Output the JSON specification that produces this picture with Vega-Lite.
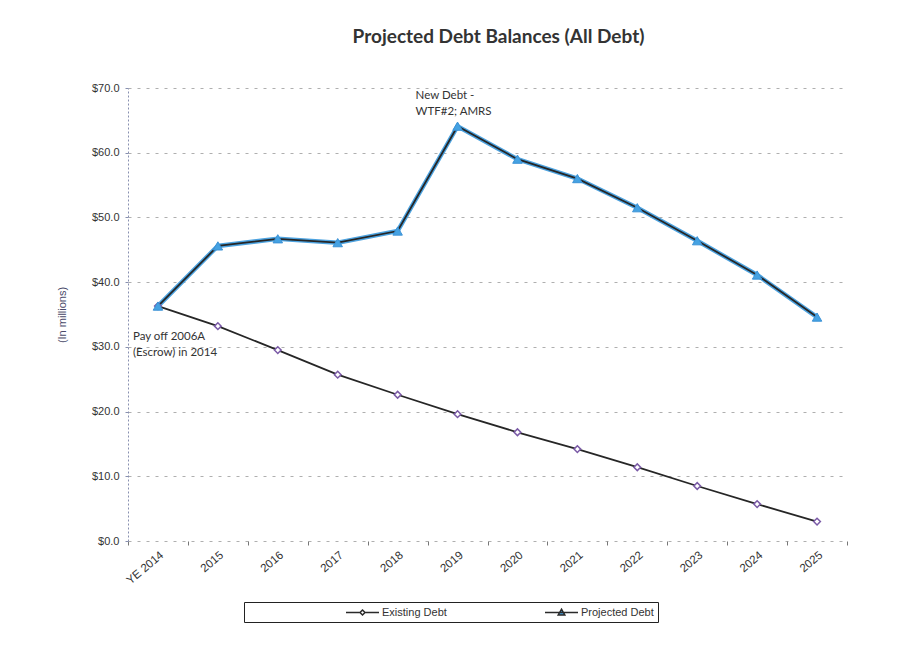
{
  "$schema": "https://vega.github.io/schema/vega-lite/v6.json",
  "autosize": {"type": "none"},
  "width": 719,
  "height": 453,
  "padding": {"left": 128, "top": 88, "right": 53, "bottom": 105},
  "background": "white",
  "title": {
    "text": "Projected Debt Balances (All Debt)",
    "font": "Lato",
    "fontSize": 19,
    "fontWeight": "bold",
    "color": "#333333",
    "anchor": "middle",
    "dx": 11,
    "offset": 35
  },
  "config": {
    "view": {"stroke": null},
    "axis": {"labelFont": "Liberation Sans", "labelFontSize": 11, "labelColor": "#333333", "titleFont": "Liberation Sans"},
    "legend": {
      "orient": "none",
      "legendX": 116,
      "legendY": 514,
      "direction": "horizontal",
      "columns": 2,
      "padding": 4,
      "strokeColor": "#222222",
      "fillColor": "white",
      "symbolOffset": 108,
      "labelOffset": 13,
      "columnPadding": 0,
      "labelFont": "Liberation Sans",
      "labelFontSize": 11,
      "labelColor": "#333333",
      "symbolOpacity": 1,
      "symbolStrokeWidth": 1.5,
      "symbolSize": 121
    }
  },
  "datasets": {
    "debt": [
      {"year": "YE 2014", "series": "Existing Debt", "value": 36.3},
      {"year": "2015", "series": "Existing Debt", "value": 33.2},
      {"year": "2016", "series": "Existing Debt", "value": 29.5},
      {"year": "2017", "series": "Existing Debt", "value": 25.7},
      {"year": "2018", "series": "Existing Debt", "value": 22.6},
      {"year": "2019", "series": "Existing Debt", "value": 19.6},
      {"year": "2020", "series": "Existing Debt", "value": 16.8},
      {"year": "2021", "series": "Existing Debt", "value": 14.2},
      {"year": "2022", "series": "Existing Debt", "value": 11.4},
      {"year": "2023", "series": "Existing Debt", "value": 8.5},
      {"year": "2024", "series": "Existing Debt", "value": 5.7},
      {"year": "2025", "series": "Existing Debt", "value": 3.0},
      {"year": "YE 2014", "series": "Projected Debt", "value": 36.3},
      {"year": "2015", "series": "Projected Debt", "value": 45.6},
      {"year": "2016", "series": "Projected Debt", "value": 46.7},
      {"year": "2017", "series": "Projected Debt", "value": 46.1},
      {"year": "2018", "series": "Projected Debt", "value": 47.9},
      {"year": "2019", "series": "Projected Debt", "value": 64.1},
      {"year": "2020", "series": "Projected Debt", "value": 59.0},
      {"year": "2021", "series": "Projected Debt", "value": 56.0},
      {"year": "2022", "series": "Projected Debt", "value": 51.5},
      {"year": "2023", "series": "Projected Debt", "value": 46.4},
      {"year": "2024", "series": "Projected Debt", "value": 41.1},
      {"year": "2025", "series": "Projected Debt", "value": 34.6}
    ],
    "notes": [
      {"year": "2019", "value": 69.7, "label": ["New Debt -", "WTF#2; AMRS"]},
      {"year": "YE 2014", "value": 32.4, "label": ["Pay off 2006A", "(Escrow) in 2014"]}
    ]
  },
  "encoding": {
    "x": {
      "field": "year",
      "type": "nominal",
      "title": null,
      "scale": {
        "type": "band",
        "domain": ["YE 2014", "2015", "2016", "2017", "2018", "2019", "2020", "2021", "2022", "2023", "2024", "2025"],
        "paddingInner": 0,
        "paddingOuter": 0
      },
      "axis": {
        "labelAngle": -40,
        "labelAlign": "right",
        "labelBaseline": "top",
        "labelPadding": 4,
        "labelFontSize": 11.5,
        "domain": false,
        "ticks": true,
        "tickBand": "extent",
        "tickSize": 4,
        "tickColor": "#777777",
        "grid": false
      }
    },
    "y": {
      "field": "value",
      "type": "quantitative",
      "title": "(In millions)",
      "scale": {"domain": [0, 70], "nice": false},
      "axis": {
        "values": [0, 10, 20, 30, 40, 50, 60, 70],
        "format": "$.1f",
        "tickSize": 3,
        "tickColor": "#8890b0",
        "labelPadding": 6,
        "domain": true,
        "domainColor": "#8890b0",
        "domainDash": [2, 2],
        "grid": true,
        "gridColor": "#9a9a9a",
        "gridDash": [3, 6],
        "gridWidth": 0.8,
        "titleFontSize": 11,
        "titleFontWeight": "normal",
        "titleColor": "#4a4a6a",
        "titlePadding": 24
      }
    }
  },
  "layer": [
    {
      "data": {"name": "debt"},
      "transform": [{"filter": "datum.series === 'Projected Debt'"}],
      "mark": {"type": "line", "color": "#4da3e0", "strokeWidth": 4.5},
      "encoding": {}
    },
    {
      "data": {"name": "debt"},
      "mark": {"type": "line", "color": "#262626", "strokeWidth": 1.8},
      "encoding": {"detail": {"field": "series"}}
    },
    {
      "data": {"name": "debt"},
      "transform": [{"filter": "datum.series === 'Existing Debt'"}],
      "mark": {"type": "point", "shape": "diamond", "filled": false, "fill": "white", "stroke": "#7a5aa6", "strokeWidth": 1.5, "size": 45, "opacity": 1},
      "encoding": {}
    },
    {
      "data": {"name": "debt"},
      "transform": [{"filter": "datum.series === 'Projected Debt'"}],
      "mark": {"type": "point", "shape": "triangle-up", "filled": true, "fill": "#45a2e2", "stroke": "#3b92d6", "strokeWidth": 1, "size": 90, "opacity": 1},
      "encoding": {}
    },
    {
      "data": {"name": "debt"},
      "mark": {"type": "point", "filled": true, "strokeWidth": 1.5, "size": 121, "opacity": 0},
      "encoding": {
        "shape": {
          "field": "series",
          "type": "nominal",
          "title": null,
          "scale": {
            "domain": ["Existing Debt", "Projected Debt"],
            "range": ["M-3,0H-0.45M0.45,0H3M0,-0.45L0.45,0L0,0.45L-0.45,0Z", "M-3,0H3M0,-0.6L0.6,0.45L-0.6,0.45Z"]
          }
        },
        "fill": {
          "field": "series",
          "type": "nominal",
          "title": null,
          "scale": {"domain": ["Existing Debt", "Projected Debt"], "range": ["white", "#4aa3e0"]}
        },
        "stroke": {
          "field": "series",
          "type": "nominal",
          "title": null,
          "scale": {"domain": ["Existing Debt", "Projected Debt"], "range": ["#2a2a2a", "#2a2a2a"]}
        }
      }
    },
    {
      "data": {"name": "notes"},
      "transform": [{"filter": "datum.year === '2019'"}],
      "mark": {"type": "text", "align": "left", "baseline": "top", "font": "Lato", "fontSize": 11.5, "lineHeight": 16, "color": "#333333", "dx": -42},
      "encoding": {"text": {"field": "label"}}
    },
    {
      "data": {"name": "notes"},
      "transform": [{"filter": "datum.year === 'YE 2014'"}],
      "mark": {"type": "text", "align": "left", "baseline": "top", "font": "Lato", "fontSize": 11.5, "lineHeight": 16, "color": "#333333", "dx": -25},
      "encoding": {"text": {"field": "label"}}
    }
  ]
}
